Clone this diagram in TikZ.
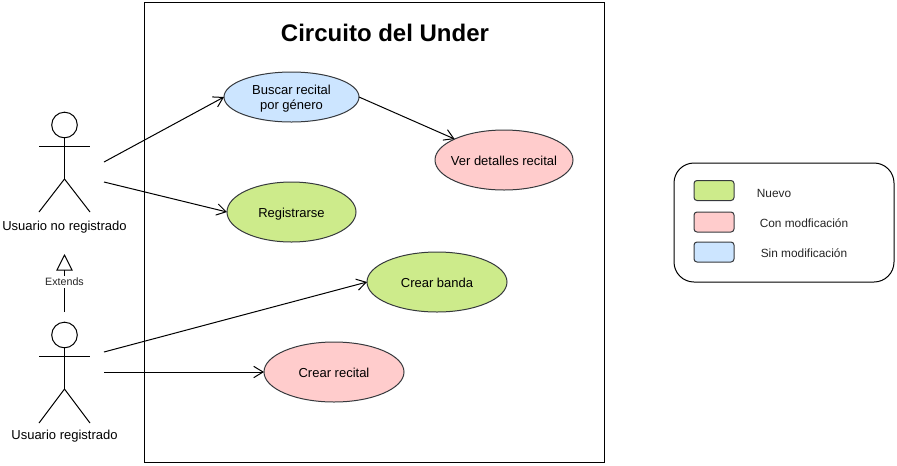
\documentclass[tikz,border=0pt]{standalone}
\usepackage{fontspec}
\setmainfont{Liberation Sans}
\usetikzlibrary{arrows.meta,shapes.geometric}

\definecolor{verde}{HTML}{CDEB8B}
\definecolor{rosa}{HTML}{FFCCCC}
\definecolor{celeste}{HTML}{CCE5FF}
\definecolor{borde}{HTML}{36393D}

\newcommand{\textocaso}[1]{\makebox[0pt]{\raisebox{-1.5pt}[\height][\depth]{\begin{tabular}{@{}c@{}}#1\end{tabular}}}}

\tikzset{
    caso/.style={draw=borde,ellipse,inner sep=0pt,outer sep=0pt,font=\fontsize{9.75}{11.25}\selectfont,text=black},
    muestra/.style={draw=borde,rounded corners=2.25pt,minimum width=30pt,minimum height=15pt,inner sep=0pt,outer sep=0pt},
    rotulo/.style={font=\fontsize{9.75}{11}\selectfont,inner sep=0pt},
    nota/.style={font=\fontsize{8.9}{10}\selectfont,text=black!85,inner sep=0pt},
    cabeza/.style={draw,circle,minimum size=19.2pt,inner sep=0pt,outer sep=0pt},
    flecha/.style={-{Straight Barb[length=7pt,width=8.5pt]}}
}

\begin{document}
\begin{tikzpicture}[x=0.75pt,y=-0.75pt,line width=0.75pt]

    \useasboundingbox (0,0) rectangle (897,465);
    \fill[white] (0,0) rectangle (897,465);

    % sistema
    \draw (144,2) rectangle (604,462);
    \node[font=\bfseries\fontsize{18}{20}\selectfont,inner sep=0pt] (titulo) at (385,33) {Circuito del Under};

    % casos de uso
    \node[caso,fill=celeste,minimum width=101.25pt,minimum height=37.5pt] (buscar) at (291.5,97) {\textocaso{Buscar recital\\por género}};
    \node[caso,fill=rosa,minimum width=103.5pt,minimum height=45pt] (detalles) at (504,160) {\textocaso{Ver detalles recital}};
    \node[caso,fill=verde,minimum width=96.75pt,minimum height=45pt] (registrarse) at (291.5,212) {\textocaso{Registrarse}};
    \node[caso,fill=verde,minimum width=105pt,minimum height=45pt] (banda) at (437,282) {\textocaso{Crear banda}};
    \node[caso,fill=rosa,minimum width=105pt,minimum height=45pt] (recital) at (334,372) {\textocaso{Crear recital}};

    % actor no registrado
    \node[cabeza] (cabezaA) at (64.5,125) {};
    \coordinate (caderaA) at (64.5,179);
    \draw (cabezaA.south) -- (caderaA);
    \draw (39,146) -- (90,146);
    \draw (39,212) -- (caderaA) -- (90,212);
    \node[rotulo] (usuarioA) at (64.5,227) {Usuario no registrado};

    % actor registrado
    \node[cabeza] (cabezaB) at (64.5,335) {};
    \coordinate (caderaB) at (64.5,389);
    \draw (cabezaB.south) -- (caderaB);
    \draw (39,356) -- (90,356);
    \draw (39,423) -- (caderaB) -- (90,423);
    \node[rotulo] (usuarioB) at (64.5,436) {Usuario registrado};

    % extends
    \coordinate (baseExt) at (64.5,312);
    \coordinate (puntaExt) at (64.5,254);
    \draw[-{Triangle[open,length=12.5pt,width=12.5pt]}] (baseExt) -- (puntaExt)
        node[nota,font=\fontsize{8}{10}\selectfont,pos=0.517,fill=white,inner ysep=1.5pt] (extends) {Extends};

    % salidas de los actores
    \coordinate (salidaA) at (104,162);
    \coordinate (salidaB) at (104,182);
    \coordinate (salidaC) at (104,352);
    \coordinate (salidaD) at (104,372);

    \draw[flecha] (salidaA) -- (buscar.west);
    \draw[flecha] (salidaB) -- (registrarse.west);
    \draw[flecha] (salidaC) -- (banda.west);
    \draw[flecha] (salidaD) -- (recital.west);
    \draw[flecha] (buscar.east) -- (detalles.157);

    % referencias
    \draw[rounded corners=15pt] (674,163) rectangle (894,282);
    \node[muestra,fill=verde] (nuevo) at (714,190.5) {};
    \node[muestra,fill=rosa] (conmod) at (714,222) {};
    \node[muestra,fill=celeste] (sinmod) at (714,252) {};
    \node[nota] (txtnuevo) at (774,193) {Nuevo};
    \node[nota] (txtcon) at (804,223) {Con modficación};
    \node[nota] (txtsin) at (804,253) {Sin modificación};

\end{tikzpicture}
\end{document}
